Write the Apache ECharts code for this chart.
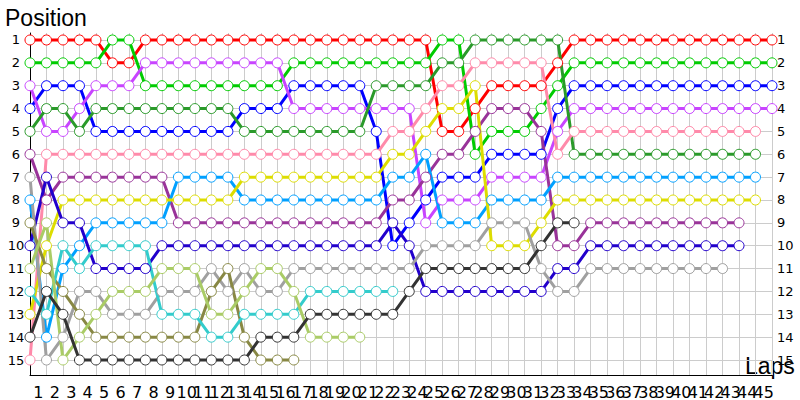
<!DOCTYPE html>
<html><head><meta charset="utf-8">
<script src="https://cdn.jsdelivr.net/npm/echarts@6/dist/echarts.min.js"></script>
<style>html,body{margin:0;padding:0;background:#fff}#c{width:800px;height:400px}</style>
</head><body><div id="c"></div>
<script>
// Tick labels
const positionTicks = [1,2,3,4,5,6,7,8,9,10,11,12,13,14,15];
const lapTicks = ['1','2','3','4','5','6','7','8','9','10','11','12','13','14','15','16','17','18','19','20','21','22','23','24','25','26','27','28','29','30','31','32','33','34','35','36','37','38','39','40','41','42','43','44','45'];

// Position per lap (index 0 = grid / start)
const red        = [1,1,1,1,1,2,2,1,1,1,1,1,1,1,1,1,1,1,1,1,1,1,1,1,1,5,5,4,3,3,3,3,2,1,1,1,1,1,1,1,1,1,1,1,1,1];
const green      = [2,2,2,2,2,1,1,3,3,3,3,3,3,3,3,3,2,2,2,2,2,2,2,2,2,1,1,6,5,5,5,4,3,2,2,2,2,2,2,2,2,2,2,2,2,2];
const blue       = [4,3,3,3,5,5,5,5,5,5,5,5,5,4,4,4,3,3,3,3,3,5,10,9,8,7,7,7,6,6,6,6,4,3,3,3,3,3,3,3,3,3,3,3,3,3];
const violet     = [3,5,5,4,3,3,3,2,2,2,2,2,2,2,2,2,4,4,4,4,4,4,4,4,9,8,8,8,7,7,7,7,5,4,4,4,4,4,4,4,4,4,4,4,4,4];
const darkGreen  = [5,4,4,5,4,4,4,4,4,4,4,4,4,5,5,5,5,5,5,5,5,3,3,3,3,2,2,1,1,1,1,1,1,6,6,6,6,6,6,6,6,6,6,6,6];
const pink       = [15,6,6,6,6,6,6,6,6,6,6,6,6,6,6,6,6,6,6,6,6,6,5,5,4,3,3,2,2,2,2,2,6,5,5,5,5,5,5,5,5,5,5,5,5];
const purple     = [6,8,7,7,7,7,7,7,7,9,9,9,9,9,9,9,9,9,9,9,9,9,8,8,7,6,6,5,4,4,4,5,10,10,9,9,9,9,9,9,9,9,9,9];
const lightBlue  = [8,14,11,10,9,9,9,9,9,7,7,7,7,8,8,8,8,8,8,8,8,8,7,7,6,9,9,9,8,8,8,8,7,7,7,7,7,7,7,7,7,7,7,7,7];
const yellow     = [13,10,8,8,8,8,8,8,8,8,8,8,8,7,7,7,7,7,7,7,7,7,6,6,5,4,4,3,10,10,10,9,8,8,8,8,8,8,8,8,8,8,8,8,8];
const darkBlue   = [10,7,9,9,11,11,11,11,10,10,10,10,10,10,10,10,10,10,10,10,10,10,9,10,12,12,12,12,12,12,12,12,11,11,10,10,10,10,10,10,10,10,10,10];
const gray       = [7,15,14,12,12,13,13,13,12,12,12,11,12,11,12,12,11,11,11,11,11,11,11,11,10,10,10,10,9,9,9,11,12,12,11,11,11,11,11,11,11,11,11];
const olive      = [9,11,12,13,14,14,14,14,14,14,14,12,11,14,15,15,15];
const cyan       = [12,13,10,11,10,10,10,10,13,13,13,14,14,13,13,13,13,12,12,12,12,12,12];
const yellowGreen= [11,9,15,14,13,12,12,12,11,11,11,13,13,12,11,11,12,14,14,14,14];
const darkGray   = [14,12,13,15,15,15,15,15,15,15,15,15,15,15,14,14,14,13,13,13,13,13,13,12,11,11,11,11,11,11,11,10,9,9];

const seriesList = [
  {name:'Red', data: red, color:'#ff0000'},
  {name:'Green', data: green, color:'#00cc00'},
  {name:'Blue', data: blue, color:'#0000ff'},
  {name:'Violet', data: violet, color:'#c844ff'},
  {name:'Dark green', data: darkGreen, color:'#2a9a2a'},
  {name:'Pink', data: pink, color:'#ff8aaa'},
  {name:'Purple', data: purple, color:'#993399'},
  {name:'Light blue', data: lightBlue, color:'#00a0ff'},
  {name:'Yellow', data: yellow, color:'#dddd00'},
  {name:'Dark blue', data: darkBlue, color:'#2200cc'},
  {name:'Gray', data: gray, color:'#a0a0a0'},
  {name:'Olive', data: olive, color:'#888844'},
  {name:'Cyan', data: cyan, color:'#33cccc'},
  {name:'Yellow green', data: yellowGreen, color:'#aacc66'},
  {name:'Dark gray', data: darkGray, color:'#333333'}
];

const chart = echarts.init(document.getElementById('c'), null, {renderer:'svg'});
const yMin = 0.694, yMax = 15.656;
const gridColor = '#cccccc';
const option = {
  animation: false,
  backgroundColor: '#ffffff',
  grid: {left:30, right:28, top:33, bottom:25, containLabel:false},
  xAxis: [
    {
      type:'value', min:0, max:45, interval:1, position:'top',
      axisLine:{show:false}, axisTick:{show:false}, axisLabel:{show:false},
      splitLine:{show:true, lineStyle:{color:gridColor, width:1}}
    },
    {
      type:'category', position:'bottom', data: lapTicks, boundaryGap:true,
      axisLine:{show:true, onZero:false, lineStyle:{color:'#000', width:1}},
      axisTick:{show:false}, splitLine:{show:false},
      axisLabel:{interval:0, margin:9, color:'#000', fontFamily:'DejaVu Sans', fontSize:16}
    }
  ],
  yAxis: [
    {
      type:'value', inverse:true, min:yMin, max:yMax,
      axisLine:{show:true, onZero:false, lineStyle:{color:'#000', width:1}},
      axisTick:{show:false, customValues: positionTicks},
      splitLine:{show:true, lineStyle:{color:gridColor, width:1}},
      axisLabel:{customValues: positionTicks, align:'center', margin:14, color:'#000', fontFamily:'DejaVu Sans', fontSize:13}
    },
    {
      type:'value', inverse:true, min:yMin, max:yMax, position:'right',
      axisLine:{show:false},
      axisTick:{show:false, customValues: positionTicks},
      splitLine:{show:false},
      axisLabel:{customValues: positionTicks, align:'left', margin:5, color:'#000', fontFamily:'DejaVu Sans', fontSize:13}
    }
  ],
  graphic: [
    {type:'text', left:5, top:6, style:{text:'Position', fontFamily:'Liberation Sans', fontSize:23, fill:'#000'}},
    {type:'text', left:745, top:354, style:{text:'Laps', fontFamily:'Liberation Sans', fontSize:23, fill:'#000'}}
  ],
  series: seriesList.map(s => ({
    name: s.name, type:'line', xAxisIndex:0, yAxisIndex:0,
    data: s.data.map((p, lap) => [lap, p]),
    symbol:'circle', symbolSize:10, showSymbol:true,
    lineStyle:{color:s.color, width:3},
    itemStyle:{color:'#ffffff', borderColor:s.color, borderWidth:1},
    emphasis:{disabled:true}, silent:true
  }))
};
chart.setOption(option);
</script>
</body></html>
